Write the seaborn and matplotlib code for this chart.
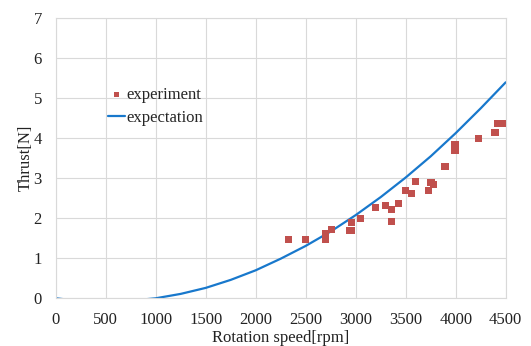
import matplotlib
matplotlib.use("Agg")
import matplotlib.pyplot as plt
import numpy as np
import pandas as pd
import seaborn as sns

# measured points (rpm, thrust N)
exp_rpm = [2330, 2500, 2700, 2700, 2760, 2935, 2960, 2960, 3050, 3200,
           3300, 3360, 3360, 3430, 3500, 3560, 3600, 3727, 3753, 3777,
           3893, 3993, 3993, 4227, 4393, 4423, 4497]
exp_thrust = [1.47, 1.47, 1.63, 1.47, 1.71, 1.70, 1.70, 1.89, 2.00, 2.28,
              2.31, 2.23, 1.93, 2.38, 2.69, 2.61, 2.92, 2.69, 2.89, 2.84,
              3.29, 3.84, 3.69, 3.99, 4.15, 4.38, 4.38]

# expected curve
exp_curve_rpm = [0, 250, 500, 750, 1000, 1250, 1500, 1750, 2000, 2250,
                 2500, 2750, 3000, 3250, 3500, 3750, 4000, 4250, 4500]
exp_curve_thrust = [0.0, -0.07, -0.09, -0.06, 0.0, 0.11, 0.26, 0.46, 0.70, 0.99,
                    1.31, 1.67, 2.08, 2.53, 3.02, 3.55, 4.13, 4.75, 5.40]

x_ticks = [0, 500, 1000, 1500, 2000, 2500, 3000, 3500, 4000, 4500]
y_ticks = [0, 1, 2, 3, 4, 5, 6, 7]

sns.set_style("white")
plt.rcParams['font.family'] = ['Liberation Serif', 'DejaVu Serif']

df_exp = pd.DataFrame({"rpm": exp_rpm, "thrust": exp_thrust})
df_curve = pd.DataFrame({"rpm": exp_curve_rpm, "thrust": exp_curve_thrust})

fig = plt.figure(figsize=(5.31, 3.46), dpi=100)
ax = fig.add_axes([0.1049, 0.1379, 0.8475, 0.8092])

sns.scatterplot(data=df_exp, x="rpm", y="thrust", ax=ax, marker="s", s=26,
                color="#c0504d", edgecolor="none", label="experiment", zorder=3)
sns.lineplot(data=df_curve, x="rpm", y="thrust", ax=ax, color="#1878cc",
             linewidth=1.6, label="expectation", zorder=2)

ax.set_xlim(0, 4500)
ax.set_ylim(0, 7)
ax.set_xticks(x_ticks)
ax.set_yticks(y_ticks)
ax.grid(True, color="#d9d9d9", linewidth=0.8)
ax.set_axisbelow(True)
for sp in ax.spines.values():
    sp.set_color("#d9d9d9")
    sp.set_linewidth(0.8)
ax.tick_params(axis="x", length=0, labelsize=12, pad=10, colors="#222222")
ax.tick_params(axis="y", length=0, labelsize=12, pad=10, colors="#222222")
ax.set_xlabel("Rotation speed[rpm]", fontsize=12, labelpad=1, color="#222222")
ax.set_ylabel("Thrust[N]", fontsize=12, labelpad=0, color="#222222")

leg = ax.legend(loc="upper left", bbox_to_anchor=(0.102, 0.778), frameon=False,
                fontsize=12, handlelength=1.0, handletextpad=0.1,
                labelspacing=0.4, markerscale=0.7, borderaxespad=0)

fig.savefig("out.png", dpi=100)
